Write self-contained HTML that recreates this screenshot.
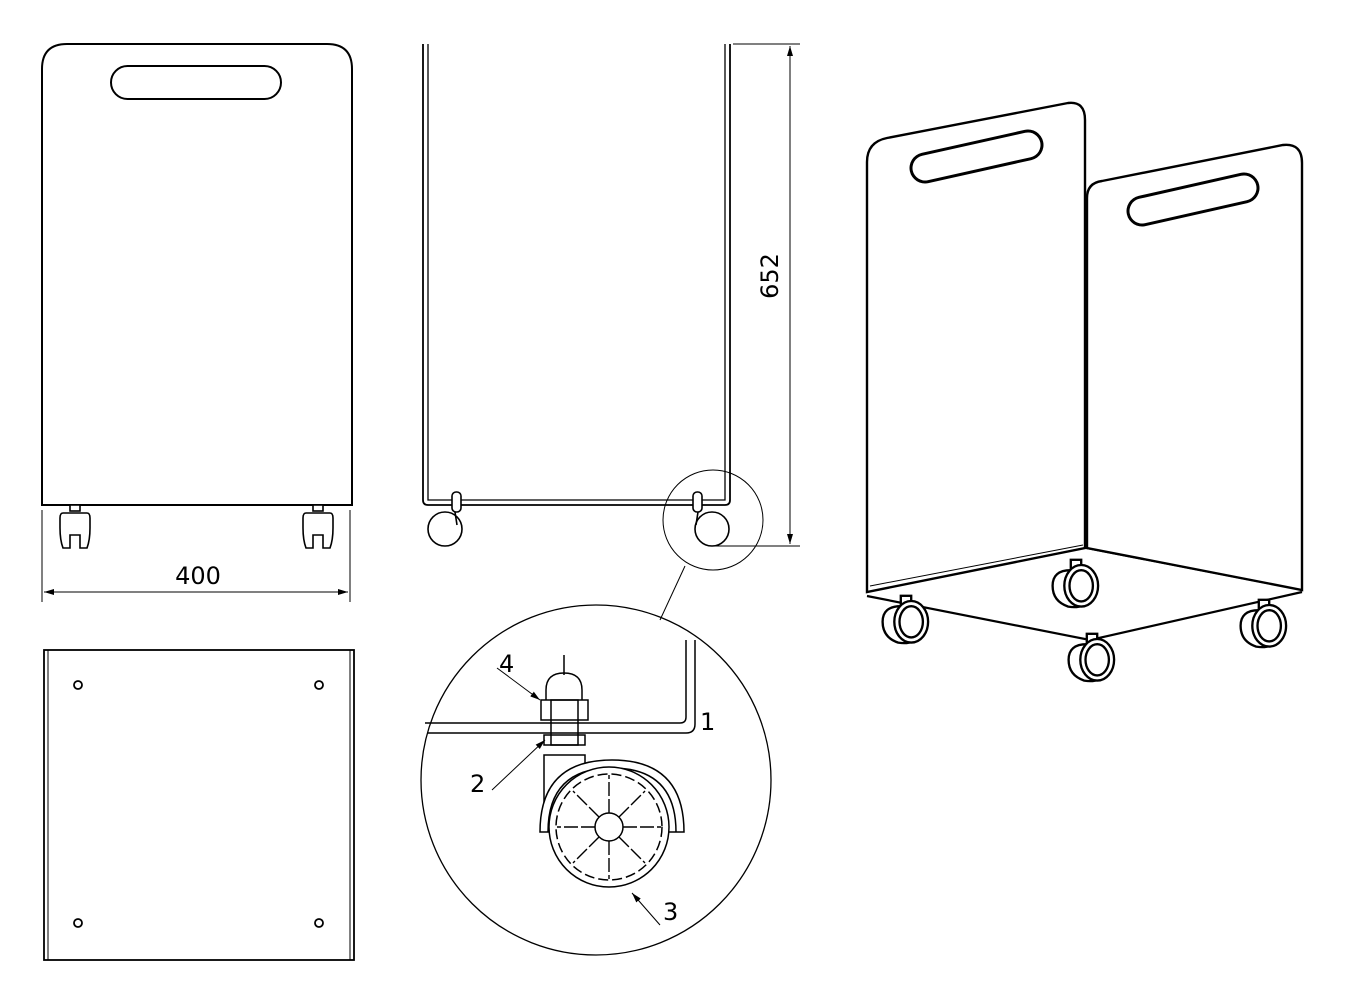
<!DOCTYPE html>
<html><head><meta charset="utf-8"><style>html,body{margin:0;padding:0;background:#fff}svg{display:block}</style></head>
<body>
<svg width="1350" height="1000" viewBox="0 0 1350 1000" xmlns="http://www.w3.org/2000/svg" font-family="'DejaVu Sans','Liberation Sans',sans-serif">
<defs>
<marker id="ar" viewBox="0 0 10 6" refX="10" refY="3" markerWidth="10" markerHeight="6" orient="auto-start-reverse" markerUnits="userSpaceOnUse"><path d="M0,0 L10,3 L0,6z" fill="#000"/></marker>
<g id="fc" fill="#fff" stroke="#000" stroke-width="1.6">
<rect x="-5" y="0" width="10" height="6"/>
<path d="M-12,8 h24 q3,0 3,5 v10 q0,12 -3,20 h-7 v-13 h-10 v13 h-7 q-3,-8 -3,-20 v-10 q0,-5 3,-5z"/>
</g>
<g id="ic" fill="#fff" stroke="#000" stroke-width="1.8">
<rect x="-4" y="-14" width="8" height="8"/>
<path d="M-18,6 q0,-12 14,-12 h10 l4,22 q-4,8 -16,6 q-12,-4 -12,-16z"/>
<ellipse cx="4" cy="6" rx="13" ry="16"/>
<ellipse cx="4" cy="6" rx="9" ry="12"/>
</g>
</defs>
<g fill="none" stroke="#000">
<path d="M42,505 V69 Q42,44 67,44 H327 Q352,44 352,69 V505 Z" stroke-width="2"/>
<rect x="111" y="66" width="170" height="33" rx="16.5" stroke-width="2"/>
<use href="#fc" x="75" y="505"/>
<use href="#fc" x="318" y="505"/>
<line x1="42" y1="510" x2="42" y2="602" stroke-width="1"/>
<line x1="350" y1="510" x2="350" y2="602" stroke-width="1"/>
<line x1="44" y1="592" x2="348" y2="592" stroke-width="1" marker-start="url(#ar)" marker-end="url(#ar)"/>
<path d="M423,44 V500 Q423,505 428,505 H725 Q730,505 730,500 V44" stroke-width="1.8"/>
<path d="M428,44 V500 H725 V44" stroke-width="1.3"/>
<g stroke-width="1.6" fill="#fff">
<circle cx="445" cy="529" r="17"/><rect x="452" y="492" width="9" height="20" rx="4"/><line x1="455" y1="512" x2="457" y2="525"/>
<circle cx="712" cy="529" r="17"/><rect x="693" y="492" width="9" height="20" rx="4"/><line x1="698" y1="512" x2="696" y2="525"/>
</g>
<line x1="733" y1="44" x2="800" y2="44" stroke-width="1"/>
<line x1="715" y1="546" x2="800" y2="546" stroke-width="1"/>
<line x1="790" y1="46" x2="790" y2="544" stroke-width="1" marker-start="url(#ar)" marker-end="url(#ar)"/>
<circle cx="713" cy="520" r="50" stroke-width="1"/>
<line x1="685" y1="566" x2="660" y2="620" stroke-width="1"/>
<rect x="44" y="650" width="310" height="310" stroke-width="1.8"/>
<line x1="48" y1="650" x2="48" y2="960" stroke-width="1"/>
<line x1="350" y1="650" x2="350" y2="960" stroke-width="1"/>
<g stroke-width="1.8"><circle cx="78" cy="685" r="4"/><circle cx="319" cy="685" r="4"/><circle cx="78" cy="923" r="4"/><circle cx="319" cy="923" r="4"/></g>
<circle cx="596" cy="780" r="175" stroke-width="1.3"/>
<path d="M425,723 H680 Q686,723 686,717 V640" stroke-width="1.5"/>
<path d="M428,733 H686 Q695,733 695,724 V640" stroke-width="1.5"/>
<g stroke-width="1.5">
<line x1="564" y1="655" x2="564" y2="675"/>
<path d="M546,700 V690 Q546,673 564,673 Q582,673 582,690 V700"/>
<rect x="541" y="700" width="47" height="20"/>
<rect x="551" y="700" width="27" height="45"/>
<rect x="544" y="735" width="41" height="10"/>
<rect x="544" y="755" width="41" height="75"/>
<path d="M540,832 Q540,760 612,760 Q684,760 684,832 Z" fill="#fff"/>
<path d="M548,832 Q548,768 612,768 Q676,768 676,832"/>
<circle cx="609" cy="827" r="60" fill="#fff"/>
<circle cx="609" cy="827" r="53" stroke-dasharray="10,4"/>
<circle cx="609" cy="827" r="14"/>
</g>
<g stroke-width="1.4" stroke-dasharray="14,3">
<line x1="609" y1="813" x2="609" y2="775"/><line x1="609" y1="841" x2="609" y2="879"/>
<line x1="623" y1="827" x2="661" y2="827"/><line x1="595" y1="827" x2="557" y2="827"/>
<line x1="619" y1="817" x2="645" y2="791"/><line x1="599" y1="837" x2="573" y2="863"/>
<line x1="619" y1="837" x2="645" y2="863"/><line x1="599" y1="817" x2="573" y2="791"/>
</g>
<line x1="497" y1="668" x2="540" y2="700" stroke-width="1" marker-end="url(#ar)"/>
<line x1="492" y1="790" x2="545" y2="740" stroke-width="1" marker-end="url(#ar)"/>
<line x1="660" y1="925" x2="632" y2="893" stroke-width="1" marker-end="url(#ar)"/>
<path d="M867,592 V162 Q867,142 887,138 L1068,103 Q1085,101 1085,120 V548 Z" stroke-width="2.4" fill="#fff"/>
<path d="M1087,548 V198 Q1087,183 1102,181 L1283,145 Q1302,143 1302,163 V590 Z" stroke-width="2.4" fill="#fff"/>
<path d="M867,592 L1085,548 L1302,590" stroke-width="1.6"/>
<path d="M870,586 L1083,545" stroke-width="1"/>
<path d="M867,596 L1090,640 L1302,592" stroke-width="2.2"/>
<line x1="925" y1="168" x2="1028" y2="145" stroke-width="31" stroke-linecap="round"/>
<line x1="925" y1="168" x2="1028" y2="145" stroke-width="25" stroke="#fff" stroke-linecap="round"/>
<line x1="1142" y1="211" x2="1244" y2="188" stroke-width="31" stroke-linecap="round"/>
<line x1="1142" y1="211" x2="1244" y2="188" stroke-width="25" stroke="#fff" stroke-linecap="round"/>
</g>
<use href="#ic" transform="translate(906,614) scale(1.3)"/>
<use href="#ic" transform="translate(1076,578) scale(1.3)"/>
<use href="#ic" transform="translate(1092,652) scale(1.3)"/>
<use href="#ic" transform="translate(1264,618) scale(1.3)"/>
<g font-size="24" fill="#000">
<text x="198" y="584" text-anchor="middle">400</text>
<text transform="translate(778,276) rotate(-90)" text-anchor="middle">652</text>
<text x="700" y="730">1</text>
<text x="470" y="792">2</text>
<text x="663" y="920">3</text>
<text x="499" y="672">4</text>
</g>
</svg>
</body></html>
